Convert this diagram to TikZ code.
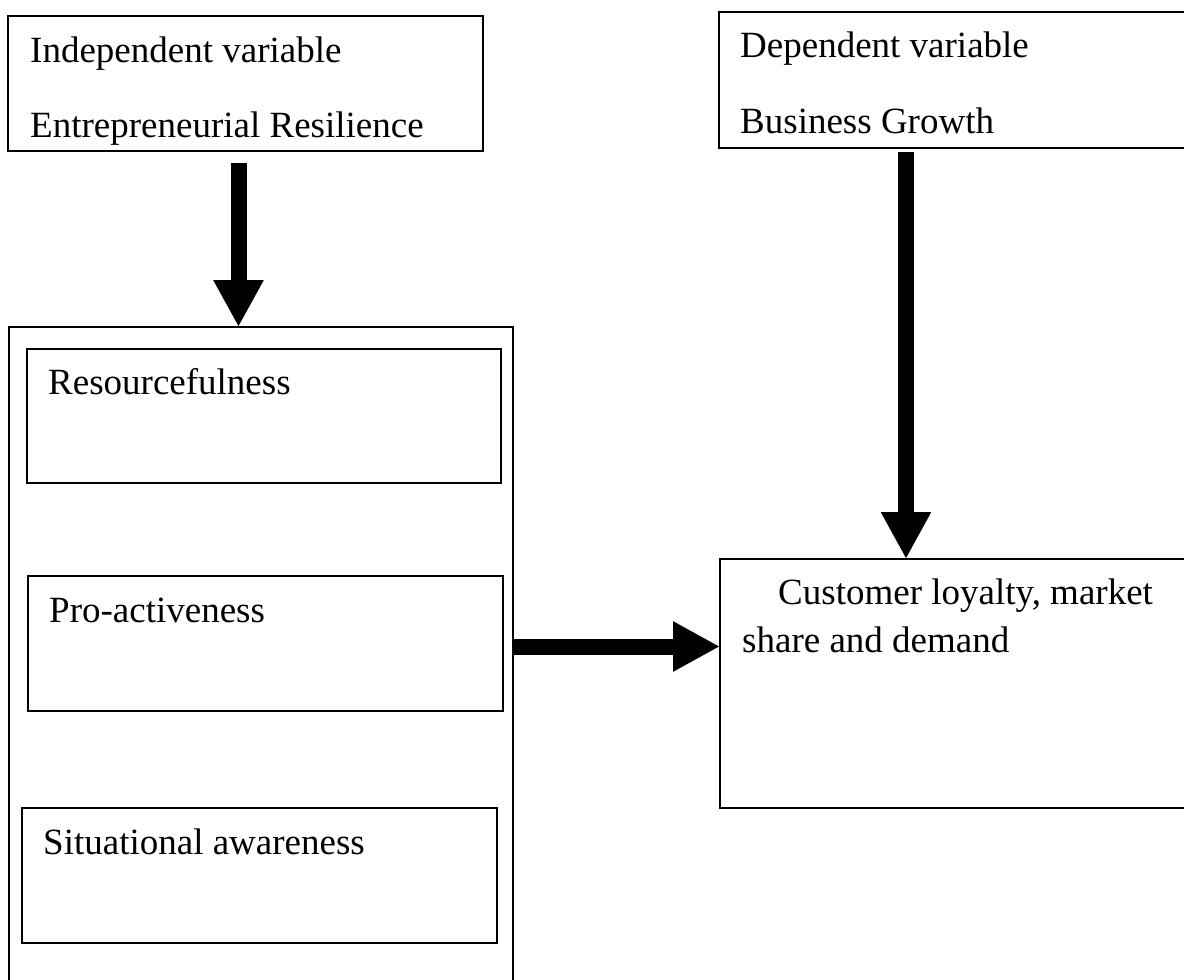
\documentclass[tikz,border=0pt]{standalone}
\usepackage{fontspec}
\setmainfont{Liberation Serif}
\usetikzlibrary{arrows.meta}

\begin{document}
\begin{tikzpicture}[x=1pt,y=-1pt,
  box/.style={draw, line width=1.8pt, anchor=north west, inner sep=0pt, outer sep=0pt},
  txt/.style={anchor=base west, inner sep=0pt, font=\fontsize{37}{44}\selectfont},
  fat/.style={line width=16pt, -{Triangle[length=47pt,width=47pt]}}]

\useasboundingbox (0,0) rectangle (1184,980);

% Independent variable
\node[box, minimum width=475pt, minimum height=135pt] (iv) at (8,16) {};
\node[txt] (ivtitle) at (30,62) {Independent variable};
\node[txt] (ivname) at (30,137) {Entrepreneurial Resilience};

% Dependent variable
\node[box, minimum width=500pt, minimum height=136pt] (dv) at (719,12) {};
\node[txt] (dvtitle) at (740,57) {Dependent variable};
\node[txt] (dvname) at (740,133) {Business Growth};

% Dimensions of resilience
\node[box, minimum width=504pt, minimum height=700pt] (outer) at (9,327) {};
\node[box, minimum width=474pt, minimum height=134pt] (res) at (27,349) {};
\node[txt] (restext) at (48,394) {Resourcefulness};
\node[box, minimum width=475pt, minimum height=135pt] (pro) at (28,576) {};
\node[txt] (protext) at (49,622) {Pro-activeness};
\node[box, minimum width=475pt, minimum height=135pt] (sit) at (22,808) {};
\node[txt] (sittext) at (43,854) {Situational awareness};

% Growth indicators
\node[box, minimum width=500pt, minimum height=249pt] (cust) at (720,559) {};
\node[txt] (custtop) at (778,604) {Customer loyalty, market};
\node[txt] (custbot) at (742,652) {share and demand};

% Arrows
\coordinate (a1) at ([xshift=-7pt,yshift=-12pt]iv.south);
\draw[fat] (a1) -- (a1 |- outer.north);
\coordinate (a2) at ([xshift=187pt,yshift=-4pt]dv.south west);
\draw[fat] (a2) -- (a2 |- cust.north);
\coordinate (a3) at ([yshift=-87.5pt]cust.north west);
\draw[fat] (outer.east |- a3) -- (a3);

\end{tikzpicture}
\end{document}
